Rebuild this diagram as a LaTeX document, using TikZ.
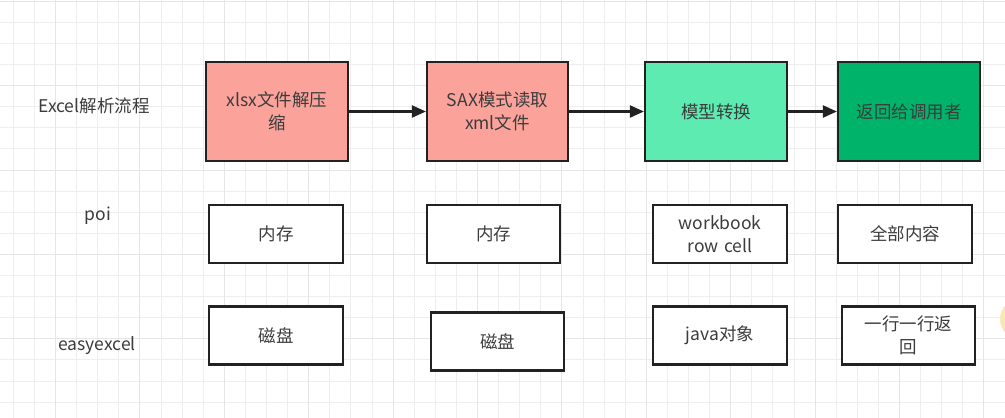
\documentclass[tikz,border=0pt]{standalone}
\usepackage{fontspec}
\setmainfont{Noto Sans CJK SC}
\usetikzlibrary{arrows.meta}
\definecolor{gridminor}{HTML}{EEEEEE}
\definecolor{gridmajor}{HTML}{E6E6E6}
\definecolor{salmon}{HTML}{FBA39B}
\definecolor{lightgreen}{HTML}{5DEBB1}
\definecolor{darkgreen}{HTML}{00B36A}
\definecolor{edge}{HTML}{222222}
\definecolor{txt}{HTML}{3C3C3C}
\definecolor{blob}{HTML}{FCE6B4}
\tikzset{
  minorline/.style={draw=gridminor, line width=1pt},
  majorline/.style={draw=gridmajor, line width=1pt},
  boxbase/.style={draw=edge, line width=2.2pt, rectangle, align=center, text=txt,
    font=\fontsize{17.5}{22.5}\selectfont, inner sep=2pt},
  topbox/.style={boxbase, minimum width=142pt, minimum height=99pt, text width=124pt},
  smallbox/.style={boxbase, fill=white, minimum width=134pt, minimum height=58pt, text width=120pt},
  rowlabel/.style={text=txt, font=\fontsize{17.5}{22}\selectfont, inner sep=0pt},
  flow/.style={draw=edge, line width=2.2pt, -{Triangle[length=14pt, width=12pt]}, shorten >=0pt}
}
\begin{document}
\begin{tikzpicture}[x=1pt, y=-1pt]
\useasboundingbox (0,0) rectangle (1005,418);
\fill[white] (0,0) rectangle (1005,418);
% grid
\foreach \k in {0,...,47} {
  \pgfmathsetmacro{\xx}{13.3+21.1*\k}
  \draw[minorline] (\xx,0) -- (\xx,418);
}
\foreach \k in {0,...,19} {
  \pgfmathsetmacro{\yy}{1.2+21.1*\k}
  \draw[minorline] (0,\yy) -- (1005,\yy);
}
\foreach \k in {2,6,...,46} {
  \pgfmathsetmacro{\xx}{13.3+21.1*\k}
  \draw[majorline] (\xx,0) -- (\xx,418);
}
\foreach \k in {0,4,...,19} {
  \pgfmathsetmacro{\yy}{1.2+21.1*\k}
  \draw[majorline] (0,\yy) -- (1005,\yy);
}
% faint blob at right edge
\fill[blob] (1020,319) circle (20);

% row labels
\node[rowlabel] (lexcel) at (94,106) {Excel解析流程};
\node[rowlabel] (lpoi) at (98,216) {poi};
\node[rowlabel] (leasy) at (97,346) {easyexcel};

% top row
\node[topbox, fill=salmon] (b1) at (277,111.5) {xlsx文件解压\\缩};
\node[topbox, fill=salmon, minimum width=141pt] (b2) at (497.5,111.5) {SAX模式读取\\xml文件};
\node[topbox, fill=lightgreen] (b3) at (716,111.5) {模型转换};
\node[topbox, fill=darkgreen] (b4) at (909,111.5) {返回给调用者};

\draw[flow] (b1) -- (b2);
\draw[flow] (b2) -- (b3);
\draw[flow] (b3) -- (b4);

% poi row
\node[smallbox] (p1) at (276,234) {内存};
\node[smallbox, minimum width=133pt] (p2) at (493.5,234) {内存};
\node[smallbox] (p3) at (720,234) {workbook\\row cell};
\node[smallbox] (p4) at (905,234) {全部内容};

% easyexcel row
\node[smallbox] (e1) at (276,335.5) {磁盘};
\node[smallbox, minimum width=133pt] (e2) at (497.5,341.5) {磁盘};
\node[smallbox] (e3) at (720,335.5) {java对象};
\node[smallbox, minimum width=133pt] (e4) at (908.5,335.5) {一行一行返\\回};
\end{tikzpicture}
\end{document}
